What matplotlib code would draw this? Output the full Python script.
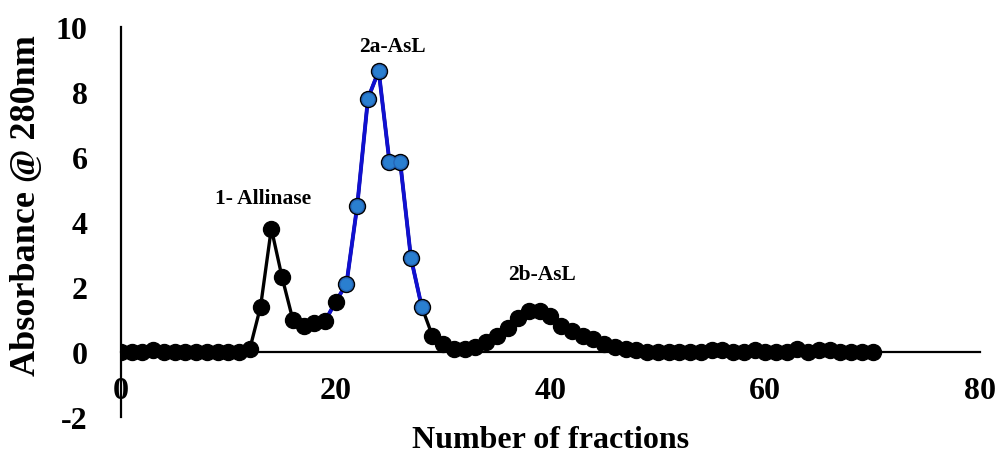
import numpy as np
import matplotlib.pyplot as plt

# Elution profile
fractions = np.arange(0, 71)
absorbance = [
    0.0, 0.0, 0.0, 0.05, 0.0, 0.0, 0.0, 0.0, 0.0, 0.0,
    0.0, 0.0, 0.1, 1.4, 3.8, 2.3, 1.0, 0.8, 0.9, 0.95,
    1.55, 2.1, 4.5, 7.8, 8.65, 5.85, 5.85, 2.9, 1.4, 0.5,
    0.25, 0.1, 0.1, 0.15, 0.3, 0.5, 0.75, 1.05, 1.25, 1.25,
    1.1, 0.8, 0.65, 0.5, 0.4, 0.25, 0.15, 0.1, 0.05, 0.0,
    0.0, 0.0, 0.0, 0.0, 0.0, 0.05, 0.05, 0.0, 0.0, 0.05,
    0.0, 0.0, 0.0, 0.1, 0.0, 0.05, 0.05, 0.0, 0.0, 0.0,
    0.0,
]
peak_2a = slice(19, 29)      # fractions drawn with the blue line
peak_2a_marks = slice(21, 29)  # fractions with blue markers

peak_labels = ["1- Allinase", "2a-AsL", "2b-AsL"]
label_pos = [(13.2, 4.75), (25.3, 9.4), (39.2, 2.4)]

plt.rcParams["font.family"] = ["Liberation Serif", "DejaVu Serif"]
plt.rcParams["font.weight"] = "bold"
plt.rcParams["axes.unicode_minus"] = False

fig = plt.figure(figsize=(10.03, 4.56), dpi=100)
ax = fig.add_axes([121 / 1003, 1 - 418 / 456, (980 - 121) / 1003, (418 - 28) / 456])

y = np.array(absorbance)
ax.plot(fractions, y, color="black", lw=2.4, zorder=1)
ax.plot(fractions[peak_2a], y[peak_2a], color="#1010d0", lw=2.8, zorder=2)
ax.plot(fractions, y, "o", color="black", ms=11.5, zorder=3)
ax.plot(fractions[peak_2a_marks], y[peak_2a_marks], "o", ms=9.5,
        mfc="#2a7fd0", mec="#2566b8", mew=1.0, zorder=4)

for text, (tx, ty) in zip(peak_labels, label_pos):
    ax.text(tx, ty, text, ha="center", va="center", fontsize=15.5, fontweight="bold")

ax.set_xlim(0, 80)
ax.set_ylim(-2, 10)
ax.set_xticks([0, 20, 40, 60, 80])
ax.set_yticks([-2, 0, 2, 4, 6, 8, 10])

for side in ("top", "right"):
    ax.spines[side].set_visible(False)
ax.spines["bottom"].set_position(("data", 0))
ax.spines["bottom"].set_linewidth(1.6)
ax.spines["left"].set_linewidth(1.6)
ax.tick_params(axis="both", length=0, labelsize=23)
ax.tick_params(axis="x", pad=17)
ax.tick_params(axis="y", pad=24)

ax.set_xlabel("Number of fractions", fontsize=23, fontweight="bold")
ax.set_ylabel("Absorbance @ 280nm", fontsize=26, fontweight="bold")
ax.xaxis.set_label_coords(0.5, -0.02)
ax.yaxis.set_label_coords(-0.091, 0.545)

fig.savefig("out.png", dpi=100)
